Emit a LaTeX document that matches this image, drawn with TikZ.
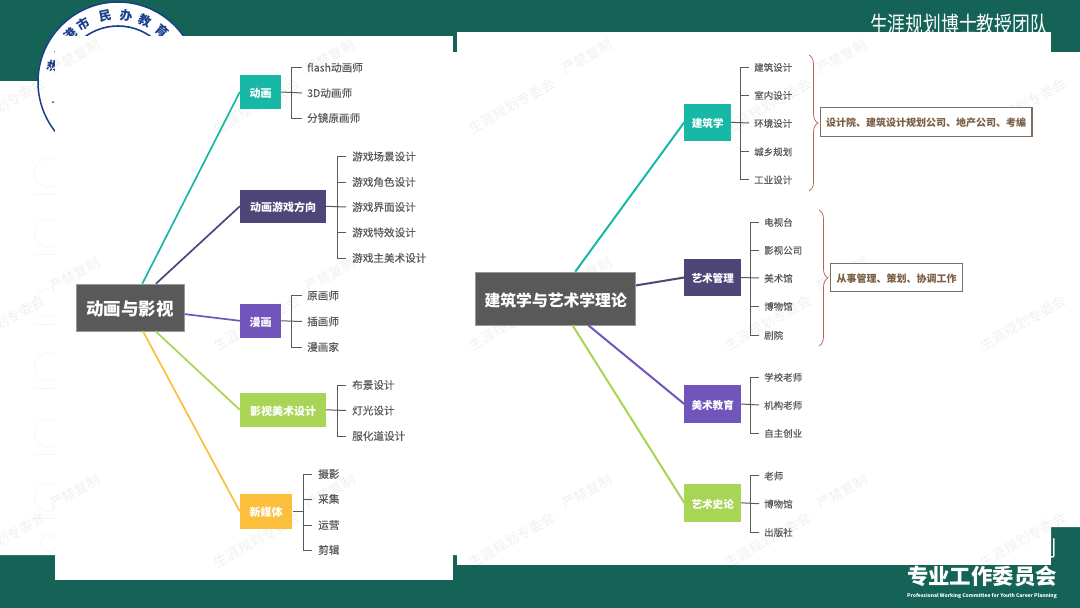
\documentclass[tikz,border=0pt]{standalone}
\usepackage{fontspec}
\setmainfont{Noto Sans CJK SC}
\newfontfamily\leaffont[FakeBold=0.35]{Noto Sans CJK SC}
\usetikzlibrary{decorations.pathreplacing}
\definecolor{slidegreen}{HTML}{146356}
\definecolor{sealblue}{HTML}{1B3F8B}
\definecolor{rootgray}{HTML}{595959}
\definecolor{leafgray}{HTML}{5A5A5A}
\definecolor{tealbox}{HTML}{17B8A6}
\definecolor{inkbox}{HTML}{4E4578}
\definecolor{violetbox}{HTML}{7155BB}
\definecolor{limebox}{HTML}{A8D555}
\definecolor{amberbox}{HTML}{FCBF3C}
\definecolor{bracered}{HTML}{B9605A}
\definecolor{tagline}{HTML}{7F6E5E}
\definecolor{tagtext}{HTML}{7A5F45}
\tikzset{
  x=1pt,y=-1pt,
  rootbox/.style={draw=gray!80,line width=0.6pt,fill=rootgray,text=white,inner sep=0pt,text height=17pt,text depth=1pt,font=\fontsize{#1}{20}\selectfont\bfseries},
  subbox/.style={fill=#1,text=white,inner sep=0pt,text height=12pt,text depth=1.6pt,font=\fontsize{11}{13}\selectfont\bfseries},
  leaf/.style={anchor=west,inner sep=0pt,text=leafgray,text height=10pt,text depth=2pt,font=\fontsize{#1}{12}\selectfont\leaffont},
  leaf/.default=10.6,
  stem/.style={draw=leafgray,line width=1pt},
  tie/.style={line width=#1},
  bracket/.style={draw=bracered,line width=0.7pt,decorate,decoration={brace,amplitude=9pt,aspect=0.5}},
  tagbox/.style={draw=tagline,line width=1.1pt,fill=white,text=tagtext,inner sep=0pt,text height=11pt,text depth=1.6pt,font=\fontsize{10}{12}\selectfont\bfseries},
  mark1/.style={rotate=29,text=black,text opacity=0.06,inner sep=0pt,font=\fontsize{13.8}{15}\selectfont},
  sealchar/.style={text=sealblue,inner sep=0pt,font=\fontsize{12.5}{13}\selectfont\bfseries},
  ghost/.style={draw=black!4,line width=0.6pt},
}
\begin{document}
\begin{tikzpicture}
	\useasboundingbox (0,0) rectangle (1080,608);
	% slide
	\fill[slidegreen] (0,0) rectangle (1080,608);
	\fill[white] (0,81)--(55,81)--(55,52)--(1080,52)--(1080,527)--(1051,527)--(1051,555)--(0,555)--cycle;
	\foreach \y in {173,233,303,367,433,497}{
		\draw[ghost] (48,\y) circle(14);
		\draw[ghost] (34,\y+21)--(55,\y+21);
	}
	\draw[ghost] (48,543) circle(8);
	% seal
	\filldraw[draw=sealblue,fill=white,line width=1.5pt] (118,82) circle(80);
	\draw[sealblue,line width=1.6pt] (118,82) circle(56);
	\foreach \ang/\ch in {41/育,24/教,7/办,-11/民,-31/市,-45/港,-60/一,-76/洙}{
		\node[sealchar,rotate=-\ang] at ({118+67*sin(\ang)},{82-67*cos(\ang)}) {\ch};
	}
	\fill[sealblue] (53,102) circle(1);
	% header and footer texts, the panels cut them
	\node[text=white,yscale=1.3,transform shape,inner sep=0pt,font=\fontsize{17.8}{20}\selectfont] (title) at (959,24.5) {生涯规划博士教授团队};
	\node[text=white,inner sep=0pt,font=\fontsize{21.4}{24}\selectfont] (cutchar) at (1046,548) {划};
	\node[text=white,inner sep=0pt,font=\fontsize{21.4}{24}\selectfont\bfseries] (unit) at (982,576) {专业工作委员会};
	\node[text=white,inner sep=0pt,font=\fontsize{5}{6}\selectfont\bfseries] (unit_en) at (982,596.5) {Professional Working Committee for Youth Career Planning};
	% panels
	\fill[white] (55,36) rectangle (453,580);
	\fill[white] (457,32) rectangle (1051,565);
	% watermark
	\foreach \x in {2,257,512,768,1023}{
		\foreach \y in {106,323,540}{
			\node[mark1] at (\x,\y) {生涯规划专委会};
		}
	}
	\foreach \x in {75,330,587,842}{
		\foreach \y in {57,275,492}{
			\node[mark1] at (\x,\y) {严禁复制};
		}
	}

	% left map
	\node[rootbox=17.5,minimum width=108.5pt,minimum height=47pt] (film) at (130.2,307.5) {动画与影视};
	\node[subbox=tealbox,minimum width=41pt,minimum height=34pt] (anim) at (260.5,92) {动画};
	\node[subbox=inkbox,minimum width=86pt,minimum height=33.5pt] (game) at (283,206.3) {动画游戏方向};
	\node[subbox=violetbox,minimum width=41pt,minimum height=33.5pt] (comic) at (260.5,320.8) {漫画};
	\node[subbox=limebox,minimum width=86pt,minimum height=33.5pt] (art) at (283,409.8) {影视美术设计};
	\node[subbox=amberbox,minimum width=52.5pt,minimum height=34.5pt] (media) at (266.2,511.3) {新媒体};

	\foreach \nm/\y/\txt in {a1/67.5/flash动画师,a2/93/3D动画师,a3/118/分镜原画师,
		c1/295.5/原画师,c2/321.5/插画师,c3/347/漫画家}{
		\node[leaf] (\nm) at (307,\y) {\txt};
	}
	\foreach \nm/\y/\txt in {g1/156.5/游戏场景设计,g2/182/游戏角色设计,g3/207/游戏界面设计,g4/232.5/游戏特效设计,g5/258/游戏主美术设计,
		d1/385/布景设计,d2/410.5/灯光设计,d3/436/服化道设计}{
		\node[leaf] (\nm) at (352,\y) {\txt};
	}
	\foreach \nm/\y/\txt in {m1/474/摄影,m2/499/采集,m3/525/运营,m4/550/剪辑}{
		\node[leaf] (\nm) at (318,\y) {\txt};
	}
	\draw[tealbox,tie=1.7pt] (film)--(anim.west);
	\draw[inkbox,tie=1.7pt] (film)--(game.west);
	\draw[violetbox,tie=1.7pt] (film)--(comic.west);
	\draw[limebox,tie=1.7pt] (film)--(art.west);
	\draw[amberbox,tie=1.7pt] (film)--(media.west);

	\draw[stem] ([xshift=-5pt]a1.west)--([xshift=-16pt]a1.west)--([xshift=-16pt]a3.west)--([xshift=-5pt]a3.west);
	\draw[stem] (anim.east)--([xshift=-5pt]a2.west);
	\draw[stem] ([xshift=-5pt]c1.west)--([xshift=-16pt]c1.west)--([xshift=-16pt]c3.west)--([xshift=-5pt]c3.west);
	\draw[stem] (comic.east)--([xshift=-5pt]c2.west);
	\draw[stem] ([xshift=-6pt]g1.west)--([xshift=-15pt]g1.west)--([xshift=-15pt]g5.west)--([xshift=-6pt]g5.west);
	\draw[stem] ([xshift=-6pt]g2.west)--([xshift=-15pt]g2.west);
	\draw[stem] ([xshift=-6pt]g4.west)--([xshift=-15pt]g4.west);
	\draw[stem] (game.east)--([xshift=-6pt]g3.west);
	\draw[stem] ([xshift=-6pt]d1.west)--([xshift=-15pt]d1.west)--([xshift=-15pt]d3.west)--([xshift=-6pt]d3.west);
	\draw[stem] (art.east)--([xshift=-6pt]d2.west);
	\draw[stem] ([xshift=-6pt]m1.west)--([xshift=-15pt]m1.west)--([xshift=-15pt]m4.west)--([xshift=-6pt]m4.west);
	\draw[stem] ([xshift=-6pt]m2.west)--([xshift=-15pt]m2.west);
	\draw[stem] ([xshift=-6pt]m3.west)--([xshift=-15pt]m3.west);
	\coordinate (mediajoin) at (303,511.3);
	\draw[stem] (media.east)--(mediajoin);

	% right map
	\node[rootbox=15.8,minimum width=160pt,minimum height=53pt] (theory) at (555.7,298.5) {建筑学与艺术学理论};
	\node[subbox=tealbox,minimum width=46.5pt,minimum height=37.5pt,font=\fontsize{10.6}{13}\selectfont\bfseries] (arch) at (707.7,122.3) {建筑学};
	\node[subbox=inkbox,minimum width=56.5pt,minimum height=37.5pt,font=\fontsize{10.6}{13}\selectfont\bfseries] (manage) at (712.7,277.5) {艺术管理};
	\node[subbox=violetbox,minimum width=56.5pt,minimum height=38pt,font=\fontsize{10.6}{13}\selectfont\bfseries] (edu) at (712.7,404) {美术教育};
	\node[subbox=limebox,minimum width=56.5pt,minimum height=37.5pt,font=\fontsize{10.6}{13}\selectfont\bfseries] (hist) at (712.7,502.8) {艺术史论};

	\foreach \nm/\y/\txt in {r1/67/建筑设计,r2/95/室内设计,r3/123/环境设计,r4/151.5/城乡规划,r5/179.5/工业设计}{
		\node[leaf=9.5] (\nm) at (754,\y) {\txt};
	}
	\foreach \nm/\y/\txt in {s1/222/电视台,s2/250/影视公司,s3/278/美术馆,s4/306/博物馆,s5/335/剧院,
		t1/377/学校老师,t2/405/机构老师,t3/433/自主创业,u1/475.7/老师,u2/503.7/博物馆,u3/532/出版社}{
		\node[leaf=9.5] (\nm) at (764,\y) {\txt};
	}
	\draw[tealbox,tie=2pt] (theory)--(arch.west);
	\draw[inkbox,tie=2pt] (theory)--(manage.west);
	\draw[violetbox,tie=2pt] (theory)--(edu.west);
	\draw[limebox,tie=2pt] (theory)--(hist.west);

	\draw[stem] ([xshift=-5pt]r1.west)--([xshift=-14pt]r1.west)--([xshift=-14pt]r5.west)--([xshift=-5pt]r5.west);
	\draw[stem] ([xshift=-5pt]r2.west)--([xshift=-14pt]r2.west);
	\draw[stem] ([xshift=-5pt]r4.west)--([xshift=-14pt]r4.west);
	\draw[stem] (arch.east)--([xshift=-5pt]r3.west);
	\draw[stem] ([xshift=-5pt]s1.west)--([xshift=-14pt]s1.west)--([xshift=-14pt]s5.west)--([xshift=-5pt]s5.west);
	\draw[stem] ([xshift=-5pt]s2.west)--([xshift=-14pt]s2.west);
	\draw[stem] ([xshift=-5pt]s4.west)--([xshift=-14pt]s4.west);
	\draw[stem] (manage.east)--([xshift=-5pt]s3.west);
	\draw[stem] ([xshift=-5pt]t1.west)--([xshift=-14pt]t1.west)--([xshift=-14pt]t3.west)--([xshift=-5pt]t3.west);
	\draw[stem] (edu.east)--([xshift=-5pt]t2.west);
	\draw[stem] ([xshift=-5pt]u1.west)--([xshift=-14pt]u1.west)--([xshift=-14pt]u3.west)--([xshift=-5pt]u3.west);
	\draw[stem] (hist.east)--([xshift=-5pt]u2.west);

	% tags with their braces
	\node[tagbox,minimum width=211.5pt,minimum height=29pt] (tag1) at (926.2,122.2) {设计院、建筑设计规划公司、地产公司、考编};
	\node[tagbox,minimum width=131.5pt,minimum height=28.5pt] (tag2) at (896.5,277.4) {从事管理、策划、协调工作};
	\coordinate (b1top) at (809,55);
	\coordinate (b1bot) at (809,191);
	\coordinate (b2top) at (819,210);
	\coordinate (b2bot) at (819,346);
	\draw[bracket] (b1top)--(b1bot);
	\draw[bracket] (b2top)--(b2bot);
\end{tikzpicture}
\end{document}
